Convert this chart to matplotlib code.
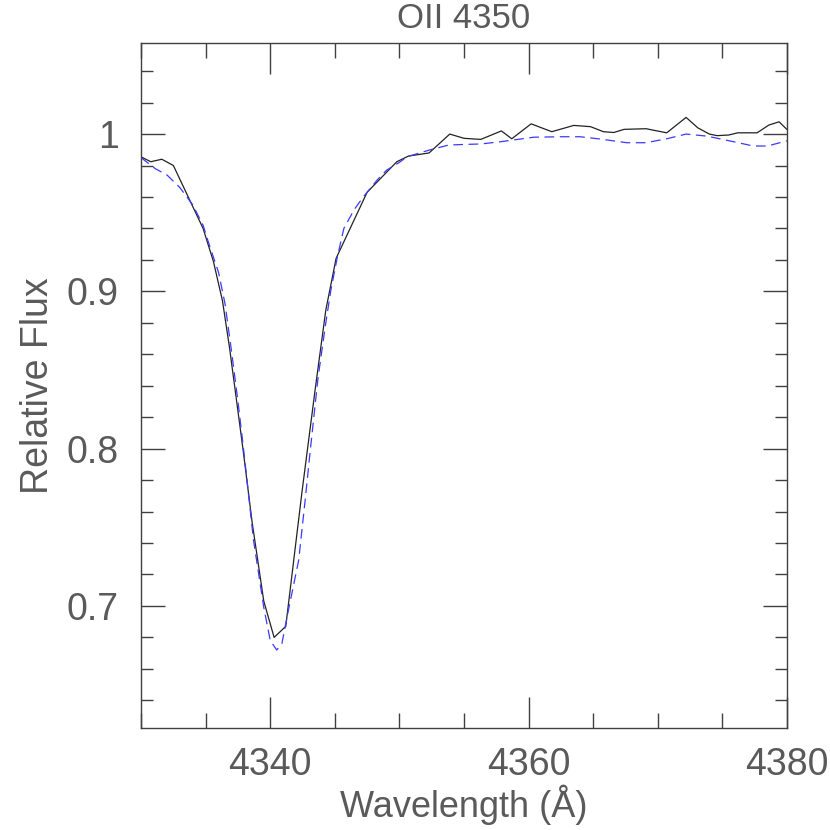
import matplotlib
matplotlib.use('Agg')
import matplotlib.pyplot as plt
from matplotlib.ticker import MultipleLocator, FixedLocator

# observed spectrum (black)
obs_wave = [4330.0, 4330.75, 4331.6, 4332.5, 4334.8, 4335.6, 4336.3, 4336.85,
            4337.9, 4338.6, 4339.5, 4340.3, 4341.2, 4342.45, 4343.5, 4344.3,
            4345.1, 4347.5, 4349.8, 4350.7, 4352.3, 4353.9, 4355.0, 4356.3,
            4357.9, 4358.7, 4360.2, 4361.8, 4363.5, 4364.8, 4365.8, 4366.6,
            4367.4, 4369.1, 4370.7, 4372.2, 4373.1, 4374.0, 4374.6, 4375.5,
            4376.2, 4377.7, 4378.6, 4379.4, 4380.0]
obs_flux = [0.9855, 0.9824, 0.984, 0.980, 0.940, 0.919, 0.894, 0.864,
            0.799, 0.753, 0.703, 0.680, 0.687, 0.772, 0.839, 0.888,
            0.921, 0.963, 0.9824, 0.986, 0.988, 1.000, 0.9973, 0.9966,
            1.002, 0.997, 1.0065, 1.0015, 1.0055, 1.0047, 1.0015, 1.001,
            1.003, 1.0034, 1.0008, 1.0106, 1.004, 1.000, 0.999, 0.9994,
            1.0008, 1.0008, 1.0057, 1.0078, 1.003]

# model spectrum (blue dashed)
mod_wave = [4330.0, 4331.1, 4332.0, 4333.0, 4334.0, 4334.8, 4335.3, 4336.0,
            4336.5, 4337.0, 4337.5, 4338.0, 4338.7, 4339.5, 4340.0, 4340.5,
            4340.9, 4341.4, 4342.2, 4342.7, 4343.1, 4343.7, 4344.3, 4344.7,
            4345.2, 4345.7, 4346.5, 4347.2, 4348.3, 4349.0, 4350.0, 4350.6,
            4352.3, 4353.8, 4355.0, 4356.3, 4357.8, 4360.4, 4362.5, 4364.0,
            4365.6, 4367.6, 4369.1, 4370.8, 4372.2, 4373.8, 4375.9, 4377.4,
            4378.5, 4380.0]
mod_flux = [0.985, 0.978, 0.974, 0.966, 0.955, 0.942, 0.929, 0.912,
            0.892, 0.862, 0.83, 0.795, 0.742, 0.699, 0.678, 0.672,
            0.676, 0.697, 0.729, 0.767, 0.799, 0.845, 0.88, 0.901,
            0.922, 0.940, 0.952, 0.960, 0.971, 0.977, 0.982, 0.9856,
            0.9898, 0.993, 0.9934, 0.9937, 0.9951, 0.998, 0.9983, 0.9983,
            0.9968, 0.9945, 0.9945, 0.9972, 1.000, 0.9987, 0.9951, 0.9924,
            0.9924, 0.9957]

title = 'OII 4350'
xlabel = 'Wavelength (Å)'
ylabel = 'Relative Flux'
ytick_vals = [0.7, 0.8, 0.9, 1.0]
ytick_labels = ['0.7', '0.8', '0.9', '1']

plt.rcParams['font.family'] = ['Liberation Sans', 'DejaVu Sans']
plt.rcParams['lines.scale_dashes'] = False
txt = '#5a5a5a'
axc = '#404040'

fig = plt.figure(figsize=(8.3, 8.3), dpi=100)
ax = fig.add_axes([0.170, 0.1229, 0.778, 0.8253])

ax.plot(obs_wave, obs_flux, color='#222222', lw=0.9)
ax.plot(mod_wave, mod_flux, color='#3a3aff', lw=0.9, dashes=(7, 4))

ax.set_xlim(4330, 4380)
ax.set_ylim(0.6224, 1.0579)

ax.xaxis.set_major_locator(MultipleLocator(20))
ax.xaxis.set_minor_locator(MultipleLocator(5))
ax.yaxis.set_major_locator(FixedLocator(ytick_vals))
ax.set_yticklabels(ytick_labels)
ax.yaxis.set_minor_locator(MultipleLocator(0.02))

ax.tick_params(which='both', direction='in', top=True, right=True,
               colors=axc, labelcolor=txt, labelsize=27, width=1.0)
ax.tick_params(axis='x', which='major', length=22, pad=14)
ax.tick_params(axis='x', which='minor', length=11)
ax.tick_params(axis='y', which='major', length=17, pad=16)
ax.tick_params(axis='y', which='minor', length=8.5)

for s in ax.spines.values():
    s.set_color(axc)
    s.set_linewidth(1.0)

ax.set_title(title, fontsize=25, color=txt, pad=11)
ax.set_xlabel(xlabel, fontsize=26, color=txt, labelpad=1)
ax.set_ylabel(ylabel, fontsize=27, color=txt, labelpad=8)

fig.savefig('out.png', dpi=100)
